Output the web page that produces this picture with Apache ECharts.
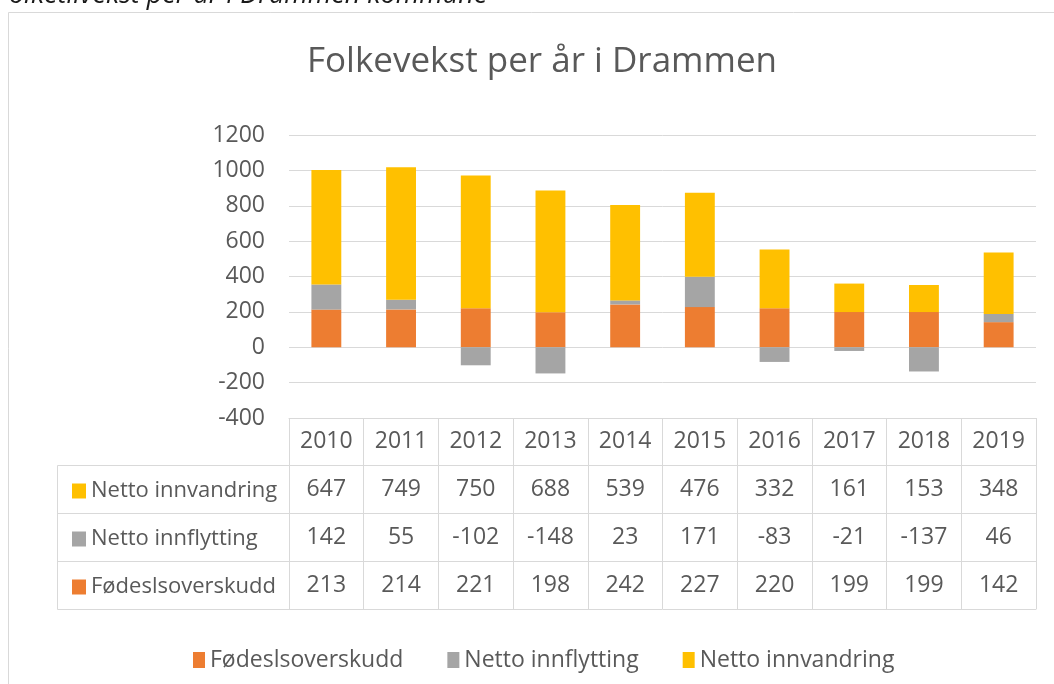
<!DOCTYPE html>
<html>
<head>
<meta charset="utf-8">
<script src="https://cdn.jsdelivr.net/npm/echarts@6/dist/echarts.min.js"></script>
<style>
html,body{margin:0;padding:0;background:#fff;}
#c{width:1054px;height:684px;}
</style>
</head>
<body>
<div id="c"></div>
<script>
var categories = ['2010','2011','2012','2013','2014','2015','2016','2017','2018','2019'];
var fodselsoverskudd = [213,214,221,198,242,227,220,199,199,142];
var nettoInnflytting = [142,55,-102,-148,23,171,-83,-21,-137,46];
var nettoInnvandring = [647,749,750,688,539,476,332,161,153,348];
var seriesNames = ['Fødeslsoverskudd','Netto innflytting','Netto innvandring'];
var yMin = -400, yMax = 1200, yInterval = 200;

var FONT = 'Open Sans';
var TXT = '#595959';
var LINE = '#D9D9D9';
var colors = ['#ED7D31','#A5A5A5','#FFC000'];

var gridLeft = 289, gridRight = 1036, gridTop = 135, gridBottomY = 418;
var headerH = 47, rowH = 48;
var rows = [nettoInnvandring, nettoInnflytting, fodselsoverskudd];

var chart = echarts.init(document.getElementById('c'));

function labelStyle(extra){
  var o = {fontFamily: FONT, fontSize: 23, color: TXT};
  for (var k in extra) o[k] = extra[k];
  return o;
}

var xAxes = [{
  type: 'category', data: categories, gridIndex: 0, position: 'bottom', offset: 0,
  axisLine: {onZero: false, lineStyle: {color: LINE, width: 1}},
  axisTick: {show: true, interval: 0, length: headerH, lineStyle: {color: LINE}},
  axisLabel: labelStyle({interval: 0, margin: headerH/2, verticalAlign: 'middle'})
}];
var offs = headerH;
rows.forEach(function(arr){
  xAxes.push({
    type: 'category', data: categories, gridIndex: 0, position: 'bottom', offset: offs,
    axisLine: {onZero: false, lineStyle: {color: LINE, width: 1}},
    axisTick: {show: true, interval: 0, length: rowH, lineStyle: {color: LINE}},
    axisLabel: labelStyle({interval: 0, margin: rowH/2, verticalAlign: 'middle',
      formatter: function(v, i){ return String(arr[i]); }})
  });
  offs += rowH;
});
xAxes.push({
  type: 'category', data: categories, gridIndex: 0, position: 'bottom', offset: offs,
  axisLine: {onZero: false, lineStyle: {color: LINE, width: 1}},
  axisTick: {show: false}, axisLabel: {show: false}
});
var tableBottom = gridBottomY + offs;

var seriesData = [fodselsoverskudd, nettoInnflytting, nettoInnvandring];

var option = {
  animation: false,
  backgroundColor: '#fff',
  color: colors,
  title: {
    text: 'Folkevekst per år i Drammen',
    left: 537, top: 40, textAlign: 'center',
    textStyle: {fontFamily: FONT, fontSize: 35, fontWeight: 'normal', color: TXT}
  },
  grid: {left: gridLeft, right: 1054 - gridRight, top: gridTop, bottom: 684 - gridBottomY, outerBoundsMode: 'none', containLabel: false},
  legend: [{
    data: seriesNames, left: 188, top: 643, itemWidth: 12, itemHeight: 16, itemGap: 44,
    icon: 'rect',
    textStyle: {fontFamily: FONT, fontSize: 23, color: TXT, lineHeight: 24}
  }, {
    data: [seriesNames[2], seriesNames[1], seriesNames[0]],
    orient: 'vertical', left: 67, top: gridBottomY + headerH + rowH/2 - 15,
    itemWidth: 14, itemHeight: 15, itemGap: rowH - 24, icon: 'rect',
    textStyle: {fontFamily: FONT, fontSize: 22, color: TXT, lineHeight: 24}
  }],
  xAxis: xAxes,
  yAxis: {
    type: 'value', min: yMin, max: yMax, interval: yInterval,
    axisLine: {show: false}, axisTick: {show: false},
    splitLine: {lineStyle: {color: LINE, width: 1}},
    axisLabel: labelStyle({margin: 24, formatter: function(v){ return String(v); }})
  },
  series: seriesNames.map(function(n, i){
    return {name: n, type: 'bar', stack: 'total', data: seriesData[i], barWidth: '40%', xAxisIndex: 0};
  }),
  graphic: [
    {type: 'rect', shape: {x: 8.5, y: 12.5, width: 1200, height: 1000}, style: {fill: 'none', stroke: LINE, lineWidth: 1}, z: -10, silent: true},
    {type: 'text', x: -4, y: -5, style: {text: 'Folketilvekst per år i Drammen kommune', font: 'italic 27px "Open Sans"', fill: '#1a1a1a', verticalAlign: 'middle'}, silent: true},
    {type: 'polyline', shape: {points: [[gridLeft, gridBottomY + headerH + 0.5],[57.5, gridBottomY + headerH + 0.5],[57.5, tableBottom + 0.5],[gridLeft, tableBottom + 0.5]]}, style: {stroke: LINE, fill: 'none', lineWidth: 1}, silent: true},
    {type: 'line', shape: {x1: 57.5, y1: gridBottomY + headerH + rowH + 0.5, x2: gridLeft, y2: gridBottomY + headerH + rowH + 0.5}, style: {stroke: LINE, lineWidth: 1}, silent: true},
    {type: 'line', shape: {x1: 57.5, y1: gridBottomY + headerH + 2*rowH + 0.5, x2: gridLeft, y2: gridBottomY + headerH + 2*rowH + 0.5}, style: {stroke: LINE, lineWidth: 1}, silent: true}
  ]
};
chart.setOption(option);
</script>
</body>
</html>
